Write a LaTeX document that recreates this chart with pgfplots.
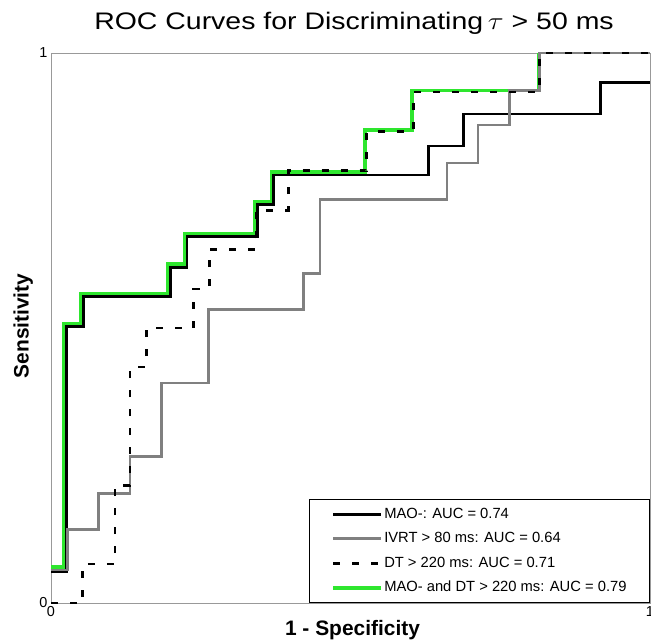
\documentclass[border=0pt]{standalone}
\usepackage{fontspec}
\setmainfont{Liberation Sans}
\usepackage{pgfplots}
\pgfplotsset{compat=1.18}
\definecolor{roccgray}{HTML}{808080}
\definecolor{roccgreen}{HTML}{2EE62E}
\definecolor{framegray}{HTML}{999999}

\begin{document}
\begin{tikzpicture}
\begin{axis}[
  at={(51bp,40bp)}, anchor=south west,
  scale only axis, width=599bp, height=550bp,
  xmin=0, xmax=1, ymin=0, ymax=1,
  xtick={0,1}, ytick={0,1},
  major tick length=0pt,
  axis line style={draw=framegray, line width=0.9bp},
  tick label style={font=\fontsize{14.5}{17}\selectfont},
  /pgf/number format/assume math mode=true,
  clip=false,
  legend style={at={(1,0)}, anchor=south east, draw=black, line width=0.9bp,
    fill=white, font=\fontsize{14.8}{17}\selectfont,
    inner xsep=22bp, inner ysep=7bp, row sep=9bp,
    nodes={inner xsep=1bp, inner ysep=1bp, text height=10.5bp, text depth=3bp}},
  legend cell align=left,
  legend image code/.code={\draw[#1] (0bp,0bp) -- (48bp,0bp);},
]
% green drawn first so the others sit on top of it
\addplot[roccgreen, line width=3.6bp, forget plot] coordinates {
  (0,0.065) (0.022,0.065) (0.022,0.508) (0.050,0.508) (0.050,0.562)
  (0.195,0.562) (0.195,0.616) (0.224,0.616) (0.224,0.672) (0.341,0.672)
  (0.341,0.729) (0.368,0.729) (0.368,0.784) (0.524,0.784) (0.524,0.860)
  (0.603,0.860) (0.603,0.932) (0.815,0.932) (0.815,1)
};
\addplot[black, line width=2.8bp] coordinates {
  (0,0.057) (0.026,0.057) (0.026,0.502) (0.054,0.502) (0.054,0.557)
  (0.199,0.557) (0.199,0.610) (0.227,0.610) (0.227,0.666) (0.345,0.666)
  (0.345,0.725) (0.371,0.725) (0.371,0.778) (0.630,0.778) (0.630,0.831)
  (0.688,0.831) (0.688,0.889) (0.917,0.889) (0.917,0.946) (1,0.946)
};
\addplot[roccgray, line width=2.8bp] coordinates {
  (0,0.060) (0.027,0.060) (0.027,0.133) (0.079,0.133) (0.079,0.199)
  (0.132,0.199) (0.132,0.267) (0.185,0.267) (0.185,0.400) (0.263,0.400)
  (0.263,0.534) (0.421,0.534) (0.421,0.599) (0.449,0.599) (0.449,0.733)
  (0.661,0.733) (0.661,0.800) (0.713,0.800) (0.713,0.869) (0.766,0.869)
  (0.766,0.932) (0.815,0.932) (0.815,1) (1,1)
};
\addplot[black, line width=2.8bp, dash pattern=on 7bp off 12bp] coordinates {
  (0,0) (0.053,0) (0.053,0.071) (0.107,0.071) (0.107,0.214) (0.132,0.214)
  (0.132,0.429) (0.159,0.429) (0.159,0.500) (0.238,0.500) (0.238,0.571)
  (0.264,0.571) (0.264,0.643) (0.343,0.643) (0.343,0.714) (0.396,0.714)
  (0.396,0.786) (0.527,0.786) (0.527,0.857) (0.605,0.857) (0.605,0.929)
  (0.816,0.929) (0.816,1) (1,1)
};
\addlegendimage{roccgreen, line width=3.6bp}
\legend{MAO-: AUC = 0.74, IVRT > 80 ms: AUC = 0.64, DT > 220 ms: AUC = 0.71,
  MAO- and DT > 220 ms: AUC = 0.79}
\end{axis}
\node[anchor=base, xscale=1.19, font=\fontsize{24}{28}\selectfont] at (354bp,613.5bp)
  {ROC Curves for Discriminating\,$\tau$ > 50 ms};
\node[anchor=base, rotate=90, font=\fontsize{21}{25}\selectfont\bfseries] at (28.5bp,317bp)
  {Sensitivity};
\node[anchor=base, font=\fontsize{21}{25}\selectfont\bfseries] at (352.5bp,7.3bp)
  {1 - Specificity};
\pgfresetboundingbox
\path[use as bounding box] (0,0) rectangle (651bp,643bp);
\end{tikzpicture}
\end{document}
